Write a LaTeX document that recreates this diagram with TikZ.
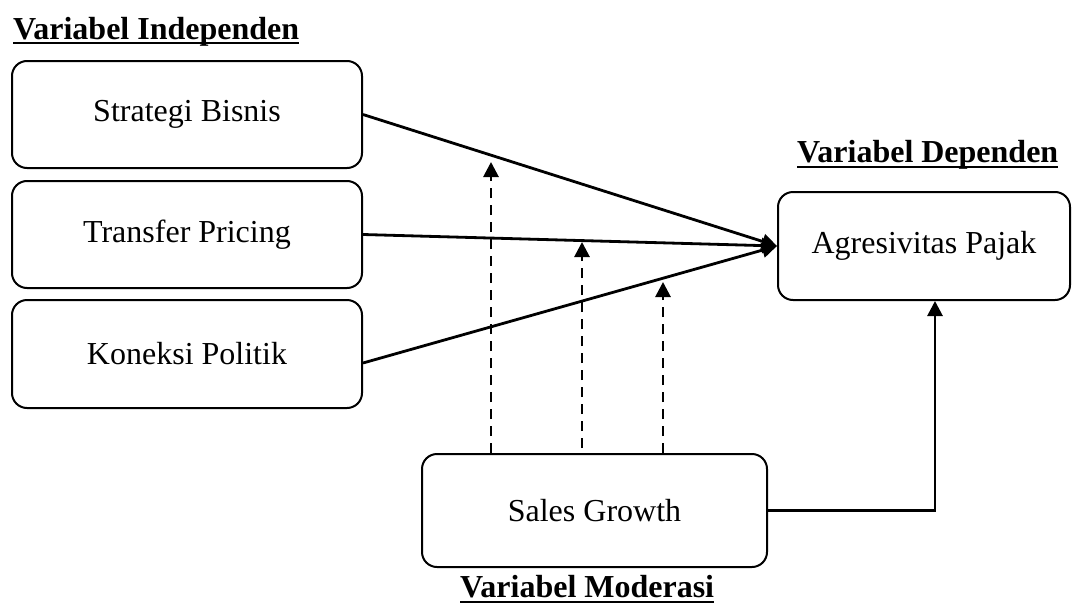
\documentclass[tikz,border=0pt]{standalone}
\usepackage{fontspec}
\setmainfont{Liberation Serif}
\usetikzlibrary{arrows.meta}
\begin{document}
\begin{tikzpicture}[x=1pt,y=-1pt,
  box/.style={draw,line width=2pt,rounded corners=15pt,minimum width=350pt,minimum height=107pt,inner sep=0pt,font=\fontsize{32}{38}\selectfont},
  head/.style={font=\fontsize{32}{38}\selectfont\bfseries,inner sep=0pt,anchor=base west},
  uline/.style={line width=2.5pt},
  link/.style={line width=2.8pt,-{Triangle[length=15pt,width=15pt]}},
  modlink/.style={link,dash pattern=on 10pt off 7pt}]
\useasboundingbox (0,0) rectangle (1073,605);

% headings
\node[head] (li) at (13,39) {Variabel Independen};
\node[head] (ld) at (797,162) {Variabel Dependen};
\node[head] (lm) at (460,597) {Variabel Moderasi};
\draw[uline] ([yshift=-4pt]li.base west) -- ([yshift=-4pt]li.base east);
\draw[uline] ([yshift=-5pt]ld.base west) -- ([yshift=-5pt]ld.base east);
\draw[uline] ([yshift=-5pt]lm.base west) -- ([yshift=-5pt]lm.base east);

% boxes
\node[box] (sb) at (187,114.5) {Strategi Bisnis};
\node[box] (tp) at (187,234.5) {Transfer Pricing};
\node[box,minimum height=108pt] (kp) at (187,354) {Koneksi Politik};
\node[box,minimum width=292pt,minimum height=108pt] (ap) at (924,246) {Agresivitas Pajak};
\node[box,minimum width=345pt,minimum height=113pt] (sg) at (594.5,510.5) {Sales Growth};

% direct effects
\draw[link] (sb.east) -- (ap.west);
\draw[link] (tp.east) -- (ap.west);
\draw[link] ([yshift=-9pt]kp.east) -- (ap.west);

% moderation
\coordinate (m1) at (491,162);
\coordinate (m2) at (582,242);
\coordinate (m3) at (663,282);
\draw[modlink] (m1 |- sg.north) -- (m1);
\draw[modlink] ([yshift=5pt]m2 |- sg.north) -- (m2);
\draw[modlink] (m3 |- sg.north) -- (m3);

% moderator direct
\draw[link] (sg.east) -| ([xshift=11pt]ap.south);
\end{tikzpicture}
\end{document}
